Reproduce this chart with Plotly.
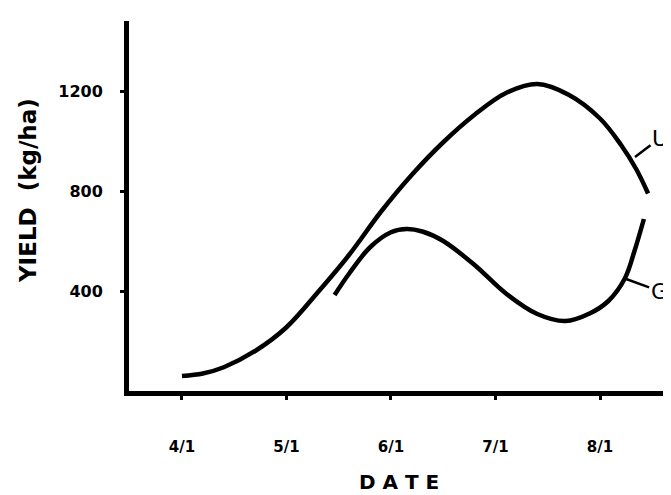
import plotly.graph_objects as go

# x in months after April 1 (0 = 4/1, 1 = 5/1, ...)
tick_vals = [0, 1, 2, 3, 4]
tick_text = ["4/1", "5/1", "6/1", "7/1", "8/1"]
y_ticks = [400, 800, 1200]

u_x = [0.0, 0.2, 0.4, 0.7, 1.0, 1.3, 1.6, 1.9, 2.2, 2.5, 2.8, 3.1, 3.4, 3.7, 4.0, 4.2, 4.35, 4.46]
u_y = [60, 70, 95, 160, 255, 395, 545, 715, 865, 995, 1105, 1192, 1228, 1185, 1090, 985, 885, 790]

g_x = [1.46, 1.6, 1.8, 2.0, 2.15, 2.3, 2.5, 2.8, 3.1, 3.4, 3.67, 3.9, 4.08, 4.24, 4.33, 4.42]
g_y = [384, 470, 575, 635, 648, 638, 600, 504, 390, 308, 280, 310, 360, 452, 560, 688]

labels = ["U", "G"]
label_anchor_x = [4.335, 4.25]
label_anchor_y = [936, 448]
label_dx = [25, 33]
label_dy = [-19, 12]

fig = go.Figure()
for xs, ys, name in [(u_x, u_y, "U"), (g_x, g_y, "G")]:
    fig.add_trace(go.Scatter(x=xs, y=ys, mode="lines", name=name,
                             line=dict(color="black", width=4.5, shape="spline", smoothing=1.0),
                             showlegend=False, hoverinfo="skip"))

for t, ax_, ay_, dx, dy in zip(labels, label_anchor_x, label_anchor_y, label_dx, label_dy):
    fig.add_annotation(x=ax_, y=ay_, text=t, showarrow=True, arrowhead=0,
                       arrowwidth=2.5, arrowcolor="black", ax=dx, ay=dy,
                       font=dict(family="DejaVu Sans", size=22, color="black"))

# axis titles placed as annotations for exact positioning
fig.add_annotation(xref="paper", yref="paper", x=-0.1836, y=0.5405, text="YIELD  (kg/ha)",
                   textangle=-90, showarrow=False, xanchor="center", yanchor="middle",
                   font=dict(family="DejaVu Sans", size=23, weight="bold", color="black"))
fig.add_annotation(xref="paper", yref="paper", x=0.491, y=-0.246, text="D A T E",
                   showarrow=False, xanchor="center", yanchor="middle",
                   font=dict(family="DejaVu Sans", size=20, weight="bold", color="black"))

fig.update_layout(
    width=671, height=495,
    margin=dict(l=121, r=0, t=13, b=112),
    paper_bgcolor="white", plot_bgcolor="white",
    font=dict(family="DejaVu Sans", color="black"),
    xaxis=dict(range=[-0.507, 4.756], tickvals=tick_vals, ticktext=tick_text,
               showline=True, linewidth=5, linecolor="black", mirror=False,
               ticks="outside", ticklen=4, tickwidth=3, tickcolor="black",
               showgrid=False, zeroline=False, ticklabelstandoff=34,
               tickfont=dict(family="DejaVu Sans", size=15, weight="bold")),
    yaxis=dict(range=[0, 1480], tickvals=y_ticks,
               showline=True, linewidth=5, linecolor="black",
               ticks="outside", ticklen=4, tickwidth=3, tickcolor="black",
               showgrid=False, zeroline=False, ticklabelstandoff=14,
               tickfont=dict(family="DejaVu Sans", size=16, weight="bold")),
)

fig.write_html("out.html")
